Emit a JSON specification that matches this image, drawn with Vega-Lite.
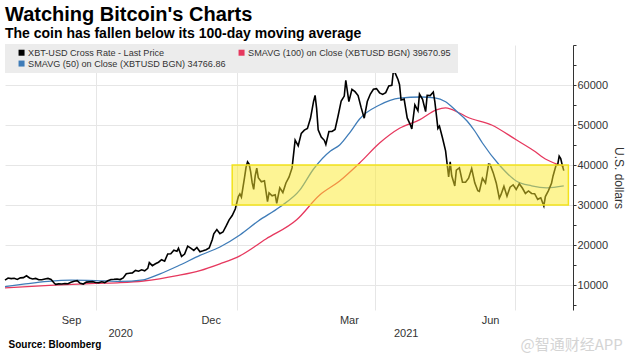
{
  "$schema": "https://vega.github.io/schema/vega-lite/v6.json",
  "width": 568,
  "height": 265,
  "autosize": {"type": "none"},
  "padding": {"left": 5, "top": 45, "right": 58, "bottom": 44},
  "background": "white",
  "config": {"font": "Liberation Sans", "view": {"stroke": null}},
  "title": {
    "text": "Watching Bitcoin's Charts",
    "subtitle": "The coin has fallen below its 100-day moving average",
    "anchor": "start", "frame": "group",
    "font": "Liberation Sans", "fontSize": 20, "fontWeight": "bold", "color": "#000000",
    "subtitleFont": "Liberation Sans", "subtitleFontSize": 14, "subtitleFontWeight": "bold", "subtitleColor": "#000000",
    "subtitlePadding": 2, "offset": 3
  },
  "datasets": {
    "sma100": [
      {"d": "2020-08-03", "v": 9300}, {"d": "2020-09-01", "v": 9900}, {"d": "2020-10-01", "v": 10400},
      {"d": "2020-10-17", "v": 10600}, {"d": "2020-11-01", "v": 11000}, {"d": "2020-11-24", "v": 12400},
      {"d": "2020-12-08", "v": 13600}, {"d": "2020-12-21", "v": 15300}, {"d": "2021-01-03", "v": 17300},
      {"d": "2021-01-20", "v": 21500}, {"d": "2021-02-09", "v": 26300}, {"d": "2021-02-24", "v": 32500},
      {"d": "2021-03-09", "v": 36000}, {"d": "2021-03-22", "v": 40500}, {"d": "2021-04-04", "v": 45500},
      {"d": "2021-04-17", "v": 49200}, {"d": "2021-04-30", "v": 51300}, {"d": "2021-05-11", "v": 53800},
      {"d": "2021-05-17", "v": 54300}, {"d": "2021-05-26", "v": 53000}, {"d": "2021-05-31", "v": 52000},
      {"d": "2021-06-16", "v": 50000}, {"d": "2021-07-02", "v": 46300}, {"d": "2021-07-13", "v": 43700},
      {"d": "2021-07-22", "v": 41300}, {"d": "2021-08-02", "v": 39670}
    ],
    "sma50": [
      {"d": "2020-08-03", "v": 9600}, {"d": "2020-08-15", "v": 10200}, {"d": "2020-08-31", "v": 10900},
      {"d": "2020-09-15", "v": 11200}, {"d": "2020-10-01", "v": 11100}, {"d": "2020-10-17", "v": 10900},
      {"d": "2020-11-01", "v": 11300}, {"d": "2020-11-12", "v": 12800}, {"d": "2020-11-25", "v": 15000},
      {"d": "2020-12-08", "v": 17400}, {"d": "2020-12-21", "v": 19500}, {"d": "2021-01-03", "v": 22500},
      {"d": "2021-01-15", "v": 26000}, {"d": "2021-01-29", "v": 29500}, {"d": "2021-02-11", "v": 33700},
      {"d": "2021-02-20", "v": 39000}, {"d": "2021-03-03", "v": 43500}, {"d": "2021-03-09", "v": 45000},
      {"d": "2021-03-16", "v": 48300}, {"d": "2021-03-22", "v": 51500}, {"d": "2021-04-04", "v": 55000},
      {"d": "2021-04-17", "v": 56700}, {"d": "2021-05-01", "v": 57000}, {"d": "2021-05-10", "v": 56800},
      {"d": "2021-05-17", "v": 55800}, {"d": "2021-05-24", "v": 53500}, {"d": "2021-05-31", "v": 51000},
      {"d": "2021-06-05", "v": 48500}, {"d": "2021-06-10", "v": 45500}, {"d": "2021-06-21", "v": 40000},
      {"d": "2021-07-02", "v": 36000}, {"d": "2021-07-12", "v": 34800}, {"d": "2021-07-22", "v": 34300},
      {"d": "2021-08-02", "v": 34770}
    ],
    "price": [
      {"d": "2020-08-03", "v": 11230}, {"d": "2020-08-05", "v": 11750}, {"d": "2020-08-07", "v": 11600},
      {"d": "2020-08-09", "v": 11680}, {"d": "2020-08-11", "v": 11400}, {"d": "2020-08-13", "v": 11780},
      {"d": "2020-08-15", "v": 11850}, {"d": "2020-08-17", "v": 12300}, {"d": "2020-08-19", "v": 11750},
      {"d": "2020-08-21", "v": 11520}, {"d": "2020-08-23", "v": 11650}, {"d": "2020-08-25", "v": 11330},
      {"d": "2020-08-27", "v": 11330}, {"d": "2020-08-29", "v": 11500}, {"d": "2020-08-31", "v": 11650},
      {"d": "2020-09-02", "v": 11400}, {"d": "2020-09-04", "v": 10500}, {"d": "2020-09-05", "v": 10170},
      {"d": "2020-09-07", "v": 10280}, {"d": "2020-09-09", "v": 10240}, {"d": "2020-09-11", "v": 10370},
      {"d": "2020-09-13", "v": 10330}, {"d": "2020-09-15", "v": 10680}, {"d": "2020-09-17", "v": 10950},
      {"d": "2020-09-19", "v": 11080}, {"d": "2020-09-21", "v": 10420}, {"d": "2020-09-23", "v": 10240},
      {"d": "2020-09-25", "v": 10730}, {"d": "2020-09-27", "v": 10780}, {"d": "2020-09-29", "v": 10840},
      {"d": "2020-10-01", "v": 10620}, {"d": "2020-10-03", "v": 10570}, {"d": "2020-10-05", "v": 10790},
      {"d": "2020-10-07", "v": 10600}, {"d": "2020-10-09", "v": 11060}, {"d": "2020-10-11", "v": 11380},
      {"d": "2020-10-13", "v": 11430}, {"d": "2020-10-15", "v": 11500}, {"d": "2020-10-17", "v": 11360},
      {"d": "2020-10-19", "v": 11750}, {"d": "2020-10-21", "v": 12820}, {"d": "2020-10-23", "v": 12930},
      {"d": "2020-10-25", "v": 13030}, {"d": "2020-10-27", "v": 13650}, {"d": "2020-10-29", "v": 13460},
      {"d": "2020-10-31", "v": 13800}, {"d": "2020-11-02", "v": 13560}, {"d": "2020-11-04", "v": 14150},
      {"d": "2020-11-05", "v": 15590}, {"d": "2020-11-07", "v": 14830}, {"d": "2020-11-09", "v": 15310},
      {"d": "2020-11-11", "v": 15700}, {"d": "2020-11-13", "v": 16320}, {"d": "2020-11-15", "v": 15960},
      {"d": "2020-11-17", "v": 17740}, {"d": "2020-11-19", "v": 17800}, {"d": "2020-11-21", "v": 18680},
      {"d": "2020-11-23", "v": 18410}, {"d": "2020-11-24", "v": 19170}, {"d": "2020-11-26", "v": 17150},
      {"d": "2020-11-28", "v": 17730}, {"d": "2020-11-30", "v": 19700}, {"d": "2020-12-02", "v": 19200},
      {"d": "2020-12-04", "v": 18650}, {"d": "2020-12-06", "v": 19370}, {"d": "2020-12-08", "v": 18320},
      {"d": "2020-12-10", "v": 18540}, {"d": "2020-12-12", "v": 18810}, {"d": "2020-12-14", "v": 19270},
      {"d": "2020-12-16", "v": 21310}, {"d": "2020-12-17", "v": 22810}, {"d": "2020-12-19", "v": 23860},
      {"d": "2020-12-21", "v": 22800}, {"d": "2020-12-23", "v": 23240}, {"d": "2020-12-25", "v": 24700},
      {"d": "2020-12-27", "v": 26280}, {"d": "2020-12-29", "v": 27360}, {"d": "2020-12-31", "v": 28990},
      {"d": "2021-01-02", "v": 32130}, {"d": "2021-01-03", "v": 32780}, {"d": "2021-01-04", "v": 31970},
      {"d": "2021-01-06", "v": 36770}, {"d": "2021-01-07", "v": 39370}, {"d": "2021-01-08", "v": 40800},
      {"d": "2021-01-09", "v": 40250}, {"d": "2021-01-10", "v": 38360}, {"d": "2021-01-11", "v": 35570},
      {"d": "2021-01-12", "v": 33920}, {"d": "2021-01-13", "v": 37320}, {"d": "2021-01-14", "v": 39190},
      {"d": "2021-01-15", "v": 36830}, {"d": "2021-01-17", "v": 35790}, {"d": "2021-01-19", "v": 36070},
      {"d": "2021-01-21", "v": 30830}, {"d": "2021-01-22", "v": 33010}, {"d": "2021-01-24", "v": 32290},
      {"d": "2021-01-26", "v": 32570}, {"d": "2021-01-27", "v": 30430}, {"d": "2021-01-29", "v": 34270},
      {"d": "2021-01-31", "v": 33110}, {"d": "2021-02-02", "v": 35510}, {"d": "2021-02-04", "v": 36950},
      {"d": "2021-02-06", "v": 39270}, {"d": "2021-02-08", "v": 46200}, {"d": "2021-02-10", "v": 44800},
      {"d": "2021-02-12", "v": 47910}, {"d": "2021-02-14", "v": 48720}, {"d": "2021-02-16", "v": 49150},
      {"d": "2021-02-18", "v": 51680}, {"d": "2021-02-20", "v": 55890}, {"d": "2021-02-21", "v": 57410},
      {"d": "2021-02-22", "v": 54090}, {"d": "2021-02-23", "v": 48820}, {"d": "2021-02-25", "v": 46990},
      {"d": "2021-02-27", "v": 46170}, {"d": "2021-02-28", "v": 45140}, {"d": "2021-03-02", "v": 48380},
      {"d": "2021-03-04", "v": 48370}, {"d": "2021-03-06", "v": 48880}, {"d": "2021-03-08", "v": 52310},
      {"d": "2021-03-10", "v": 56010}, {"d": "2021-03-12", "v": 57230}, {"d": "2021-03-13", "v": 61190},
      {"d": "2021-03-15", "v": 55850}, {"d": "2021-03-17", "v": 58930}, {"d": "2021-03-19", "v": 58330},
      {"d": "2021-03-21", "v": 57350}, {"d": "2021-03-23", "v": 54340}, {"d": "2021-03-25", "v": 51700},
      {"d": "2021-03-27", "v": 55860}, {"d": "2021-03-29", "v": 57750}, {"d": "2021-03-31", "v": 58920},
      {"d": "2021-04-02", "v": 59100}, {"d": "2021-04-04", "v": 58040}, {"d": "2021-04-06", "v": 57640},
      {"d": "2021-04-08", "v": 58100}, {"d": "2021-04-10", "v": 59770}, {"d": "2021-04-12", "v": 59900},
      {"d": "2021-04-13", "v": 63500}, {"d": "2021-04-14", "v": 63110}, {"d": "2021-04-16", "v": 61380},
      {"d": "2021-04-17", "v": 60060}, {"d": "2021-04-18", "v": 56250}, {"d": "2021-04-20", "v": 56470},
      {"d": "2021-04-22", "v": 51760}, {"d": "2021-04-24", "v": 50100}, {"d": "2021-04-25", "v": 49000},
      {"d": "2021-04-27", "v": 55030}, {"d": "2021-04-29", "v": 53560}, {"d": "2021-04-30", "v": 57750},
      {"d": "2021-05-02", "v": 56430}, {"d": "2021-05-04", "v": 53330}, {"d": "2021-05-05", "v": 57420},
      {"d": "2021-05-07", "v": 57350}, {"d": "2021-05-09", "v": 58230}, {"d": "2021-05-10", "v": 55860},
      {"d": "2021-05-12", "v": 49150}, {"d": "2021-05-13", "v": 49720}, {"d": "2021-05-15", "v": 46760},
      {"d": "2021-05-17", "v": 43540}, {"d": "2021-05-19", "v": 37000}, {"d": "2021-05-20", "v": 40780},
      {"d": "2021-05-21", "v": 37300}, {"d": "2021-05-23", "v": 34770}, {"d": "2021-05-24", "v": 38700},
      {"d": "2021-05-26", "v": 39290}, {"d": "2021-05-28", "v": 35680}, {"d": "2021-05-30", "v": 35690},
      {"d": "2021-06-01", "v": 36690}, {"d": "2021-06-03", "v": 39100}, {"d": "2021-06-05", "v": 35550},
      {"d": "2021-06-07", "v": 33560}, {"d": "2021-06-08", "v": 33400}, {"d": "2021-06-10", "v": 36690},
      {"d": "2021-06-12", "v": 35490}, {"d": "2021-06-14", "v": 40220}, {"d": "2021-06-15", "v": 40160},
      {"d": "2021-06-17", "v": 38090}, {"d": "2021-06-19", "v": 35520}, {"d": "2021-06-21", "v": 31680},
      {"d": "2021-06-22", "v": 32510}, {"d": "2021-06-24", "v": 34660}, {"d": "2021-06-26", "v": 32190},
      {"d": "2021-06-28", "v": 34470}, {"d": "2021-06-30", "v": 35040}, {"d": "2021-07-02", "v": 33870},
      {"d": "2021-07-04", "v": 35290}, {"d": "2021-07-06", "v": 34250}, {"d": "2021-07-08", "v": 32880},
      {"d": "2021-07-10", "v": 33520}, {"d": "2021-07-12", "v": 32880}, {"d": "2021-07-14", "v": 32820},
      {"d": "2021-07-16", "v": 31420}, {"d": "2021-07-18", "v": 31800}, {"d": "2021-07-20", "v": 29790},
      {"d": "2021-07-21", "v": 32110}, {"d": "2021-07-23", "v": 33600}, {"d": "2021-07-25", "v": 35410},
      {"d": "2021-07-26", "v": 37270}, {"d": "2021-07-28", "v": 39990}, {"d": "2021-07-29", "v": 40020},
      {"d": "2021-07-30", "v": 42230}, {"d": "2021-07-31", "v": 41630}, {"d": "2021-08-01", "v": 39970},
      {"d": "2021-08-02", "v": 38600}
    ],
    "box": [{"x1": "2020-12-29", "x2": "2021-08-05", "y1": 30000, "y2": 40000}]
  },
  "resolve": {"axis": {"x": "independent", "y": "independent"}},
  "layer": [
    {
      "data": {"name": "sma100"},
      "mark": {"type": "line", "strokeWidth": 1.3, "interpolate": "monotone"},
      "encoding": {
        "x": {
          "field": "d", "type": "temporal",
          "scale": {"domain": [{"year": 2020, "month": 8, "date": 3}, {"year": 2021, "month": 8, "date": 8}]},
          "axis": {
            "orient": "bottom",
            "values": [
              {"year": 2020, "month": 9, "date": 15}, {"year": 2020, "month": 10, "date": 1},
              {"year": 2020, "month": 10, "date": 17}, {"year": 2020, "month": 12, "date": 15},
              {"year": 2021, "month": 1, "date": 1}, {"year": 2021, "month": 3, "date": 15},
              {"year": 2021, "month": 4, "date": 1}, {"year": 2021, "month": 4, "date": 21},
              {"year": 2021, "month": 6, "date": 15}, {"year": 2021, "month": 7, "date": 1}
            ],
            "labelExpr": "date(datum.value) === 15 ? timeFormat(datum.value, '%b') : date(datum.value) === 17 ? ['', '2020'] : date(datum.value) === 21 ? ['', '2021'] : ''",
            "labelOverlap": false, "labelFlush": false, "labelBound": false,
            "ticks": false, "domain": false, "grid": true,
            "gridColor": {"condition": {"test": "date(datum.value) === 1", "value": "#e6e6e6"}, "value": "transparent"},
            "labelFontSize": 11, "labelColor": "#333333", "labelPadding": 4, "labelAlign": "center",
            "title": "Source: Bloomberg", "titleAnchor": "start", "titleAlign": "left", "titleBaseline": "alphabetic",
            "titleX": 3, "titleY": 37, "titleFontSize": 10, "titleFontWeight": "bold", "titleColor": "#000000"
          }
        },
        "y": {
          "field": "v", "type": "quantitative",
          "scale": {"domain": [3750, 70000], "nice": false, "zero": false},
          "axis": {
            "orient": "right",
            "values": [10000, 20000, 30000, 40000, 50000, 60000],
            "format": "d",
            "labelOverlap": false, "labelFlush": false,
            "tickSize": 3, "tickColor": "#333333", "domainColor": "#333333",
            "labelFontSize": 11, "labelColor": "#333333", "labelPadding": 1,
            "grid": true, "gridColor": "#e6e6e6",
            "title": "U.S. dollars", "titleFontSize": 12, "titleFontWeight": "normal", "titleColor": "#333333", "titlePadding": 4
          }
        },
        "color": {
          "datum": "SMAVG (100)  on Close (XBTUSD BGN) 39670.95",
          "type": "nominal",
          "scale": {
            "domain": ["XBT-USD Cross Rate - Last Price", "SMAVG (100)  on Close (XBTUSD BGN) 39670.95", "SMAVG (50)  on Close (XBTUSD BGN) 34766.86"],
            "range": ["#000000", "#e6385e", "#3f7cb8"]
          },
          "legend": {
            "orient": "none", "legendX": 0, "legendY": -1,
            "columns": 2, "direction": "horizontal", "title": null,
            "symbolType": "square", "symbolSize": 36, "symbolStrokeWidth": 0, "symbolOffset": 8,
            "labelFont": "Liberation Sans", "labelFontSize": 9.1, "labelColor": "#333333", "labelLimit": 400, "labelOffset": 2,
            "fillColor": "#ececec", "padding": 4, "rowPadding": 1, "columnPadding": -6,
            "encode": {"symbols": {"update": {"fill": {"scale": "color", "field": "value"}, "stroke": {"value": "transparent"}}}}
          }
        }
      }
    },
    {
      "data": {"name": "sma50"},
      "mark": {"type": "line", "strokeWidth": 1.3, "interpolate": "monotone"},
      "encoding": {
        "x": {"field": "d", "type": "temporal", "axis": null,
          "scale": {"domain": [{"year": 2020, "month": 8, "date": 3}, {"year": 2021, "month": 8, "date": 8}]}},
        "y": {"field": "v", "type": "quantitative", "axis": null, "scale": {"domain": [3750, 70000], "nice": false, "zero": false}},
        "color": {"datum": "SMAVG (50)  on Close (XBTUSD BGN) 34766.86", "type": "nominal"}
      }
    },
    {
      "data": {"name": "price"},
      "mark": {"type": "line", "strokeWidth": 1.6},
      "encoding": {
        "x": {"field": "d", "type": "temporal", "axis": null,
          "scale": {"domain": [{"year": 2020, "month": 8, "date": 3}, {"year": 2021, "month": 8, "date": 8}]}},
        "y": {"field": "v", "type": "quantitative", "axis": null, "scale": {"domain": [3750, 70000], "nice": false, "zero": false}},
        "color": {"datum": "XBT-USD Cross Rate - Last Price", "type": "nominal"}
      }
    },
    {
      "data": {"name": "box"},
      "mark": {"type": "rect", "fill": "#fbe92a", "fillOpacity": 0.5, "stroke": "#f2e21c", "strokeWidth": 1.5, "strokeOpacity": 1},
      "encoding": {
        "x": {"field": "x1", "type": "temporal",
          "scale": {"domain": [{"year": 2020, "month": 8, "date": 3}, {"year": 2021, "month": 8, "date": 8}]},
          "axis": {
            "orient": "bottom", "labels": false, "ticks": false, "domain": false, "grid": false,
            "title": "@智通财经APP", "titleFont": "Noto Sans CJK SC", "titleFontSize": 15, "titleFontWeight": "normal",
            "titleColor": "#d4d4d4", "titleAnchor": "start", "titleAlign": "left", "titleBaseline": "alphabetic",
            "titleX": 515, "titleY": 39
          }
        },
        "x2": {"field": "x2"},
        "y": {"field": "y1", "type": "quantitative",
          "scale": {"domain": [3750, 70000], "nice": false, "zero": false},
          "axis": {
            "orient": "right", "values": [5000, 15000, 25000, 35000, 45000, 55000, 65000, 70000],
            "labels": false, "domain": false, "grid": false, "tickSize": 3, "tickColor": "#333333", "title": null
          }
        },
        "y2": {"field": "y2"}
      }
    }
  ]
}
